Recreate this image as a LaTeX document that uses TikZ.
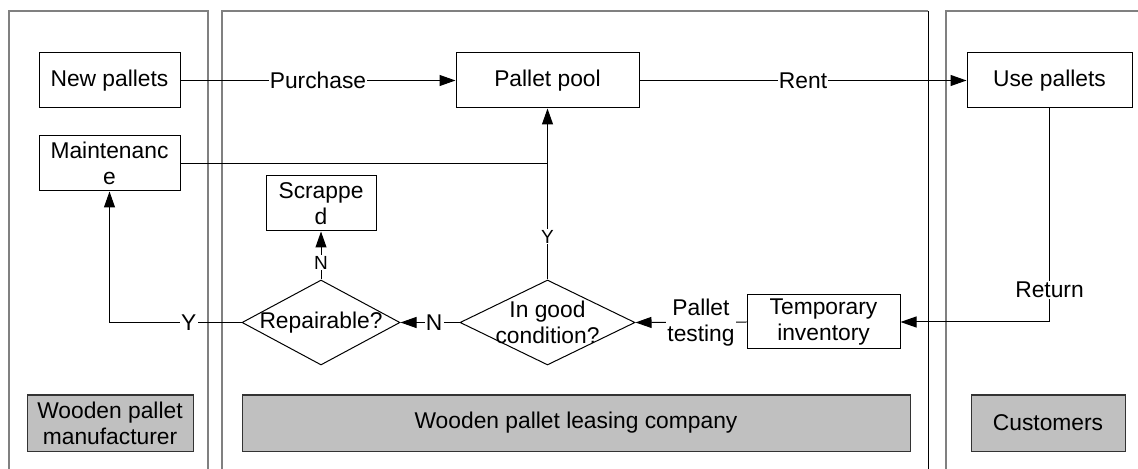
\documentclass[tikz,border=0pt]{standalone}
\usepackage{fontspec}
\setmainfont{Liberation Sans}
\usetikzlibrary{arrows.meta,shapes.geometric}
\definecolor{lanefill}{HTML}{C0C0C0}
\definecolor{lanegray}{HTML}{808080}
\begin{document}
\begin{tikzpicture}[x=0.5pt,y=-0.5pt,
  every node/.style={font=\fontsize{11.4}{13}\selectfont},
  box/.style={draw=black,line width=0.5pt,rectangle,inner sep=0pt,align=center,fill=white,minimum height=27.5pt},
  lanebox/.style={draw=black!80,line width=0.5pt,fill=lanefill,inner sep=0pt,align=center,minimum height=28pt},
  dia/.style={draw=black,line width=0.5pt,diamond,inner sep=0pt,minimum height=42.5pt},
  conn/.style={line width=0.5pt,draw=black},
  arr/.style={conn,-{Triangle[length=8pt,width=5.5pt]}},
  lbl/.style={fill=white,inner sep=0.6pt,align=center},
  slbl/.style={lbl,font=\fontsize{9.5}{11}\selectfont},
  lane/.style={draw=lanegray,line width=0.6pt}]
\useasboundingbox (0,0) rectangle (1138,469);
\clip (0,0) rectangle (1138,469);
% swimlanes
\draw[lane] (9,480) -- (9,11) -- (208,11) -- (208,480);
\draw[lane] (222,480) -- (222,11) -- (928,11);
\draw[line width=0.5pt,black] (928,11) -- (928,480);
\draw[lane] (946,480) -- (946,11) -- (1150,11);
% lane labels
\node[lanebox,minimum width=83pt] (lmanu) at (110,423) {Wooden pallet\\manufacturer};
\node[lanebox,minimum width=334pt] (lcomp) at (576,423) {Wooden pallet leasing company};
\node[lanebox,minimum width=77pt] (lcust) at (1048,423) {Customers};
% boxes
\node[box,minimum width=70.5pt] (newp) at (109.5,80.5) {New pallets};
\node[box,minimum width=70.5pt] (maint) at (109.5,163.5) {Maintenanc\\e};
\node[box,minimum width=55pt] (scrap) at (321,203.5) {Scrappe\\d};
\node[box,minimum width=91.5pt] (pool) at (547.5,80.5) {Pallet pool};
\node[box,minimum width=82.5pt] (usep) at (1049.5,80.5) {Use pallets};
\node[box,minimum width=76.5pt,minimum height=27pt] (temp) at (823.5,322) {Temporary\\inventory};
% decisions
\node[dia,minimum width=79pt] (rep) at (321,322.5) {};
\node[align=center,inner sep=0pt] (repT) at (rep.center) {Repairable?};
\node[dia,minimum width=87.5pt] (good) at (547.5,322.5) {};
\node[align=center,inner sep=0pt] (goodT) at (good.center) {In good\\condition?};
% connectors
\draw[arr] (newp.east) -- node[lbl]{Purchase} (pool.west);
\draw[arr] (pool.east) -- node[lbl]{Rent} (usep.west);
\draw[arr] (usep.south) |- node[lbl,pos=0.425]{Return} (temp.east);
\draw[arr] (temp.west) -- node[lbl,pos=0.41]{Pallet\\testing} (good.east);
\draw[arr] (good.north) -- node[slbl,pos=0.25]{Y} (pool.south);
\coordinate (join) at (maint.east -| pool.south);
\draw[conn] (maint.east) -- (join);
\draw[arr] (good.west) -- node[lbl,pos=0.43]{N} (rep.east);
\draw[arr] (rep.north) -- node[slbl,pos=0.35]{N} (scrap.south);
\draw[arr] (rep.west) -| node[lbl,pos=0.2]{Y} (maint.south);
\end{tikzpicture}
\end{document}
